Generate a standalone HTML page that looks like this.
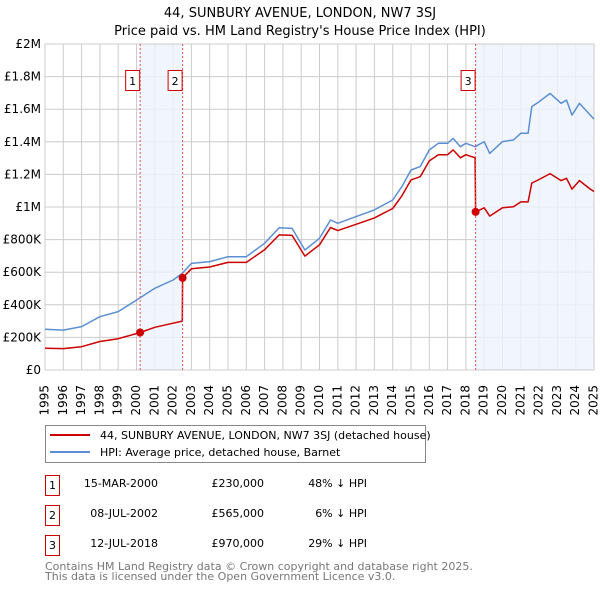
<!DOCTYPE html>
<html><head><meta charset="utf-8"><style>
body{margin:0;background:#fff;}
svg{display:block;font-family:"DejaVu Sans","Liberation Sans",sans-serif;}
</style></head><body>
<svg id="chart" width="600" height="590" viewBox="0 0 600 590">
<text x="300" y="17" text-anchor="middle" font-size="13">44, SUNBURY AVENUE, LONDON, NW7 3SJ</text>
<text x="300" y="35" text-anchor="middle" font-size="13">Price paid vs. HM Land Registry's House Price Index (HPI)</text>
<g id="grid"></g><g id="shade"></g><g id="axes"></g><g id="series"></g><g id="marks"></g>
<g>
<rect x="45.5" y="425.5" width="380" height="37" fill="#fff" stroke="#888"/>
<line x1="50" y1="435" x2="90" y2="435" stroke="#cc0000" stroke-width="2"/>
<text x="100" y="439" font-size="11">44, SUNBURY AVENUE, LONDON, NW7 3SJ (detached house)</text>
<line x1="50" y1="452" x2="90" y2="452" stroke="#5b8fd4" stroke-width="2"/>
<text x="100" y="456" font-size="11">HPI: Average price, detached house, Barnet</text>
</g>
<g font-size="11">
<rect x="45.5" y="475.5" width="14" height="20" fill="#fff" stroke="#cc0000"/><text x="52.5" y="489" text-anchor="middle">1</text>
<text x="158" y="487" text-anchor="end">15-MAR-2000</text><text x="264" y="487" text-anchor="end">£230,000</text><text x="367" y="487" text-anchor="end">48% ↓ HPI</text>
<rect x="45.5" y="505.5" width="14" height="20" fill="#fff" stroke="#cc0000"/><text x="52.5" y="519" text-anchor="middle">2</text>
<text x="158" y="517" text-anchor="end">08-JUL-2002</text><text x="264" y="517" text-anchor="end">£565,000</text><text x="367" y="517" text-anchor="end">6% ↓ HPI</text>
<rect x="45.5" y="535.5" width="14" height="20" fill="#fff" stroke="#cc0000"/><text x="52.5" y="549" text-anchor="middle">3</text>
<text x="158" y="547" text-anchor="end">12-JUL-2018</text><text x="264" y="547" text-anchor="end">£970,000</text><text x="367" y="547" text-anchor="end">29% ↓ HPI</text>
</g>
<text x="45" y="570" font-size="11" fill="#777">Contains HM Land Registry data © Crown copyright and database right 2025.</text>
<text x="45" y="580" font-size="11" fill="#777">This data is licensed under the Open Government Licence v3.0.</text>
</svg>
<script>
const yTicks=[0,200000,400000,600000,800000,1000000,1200000,1400000,1600000,1800000,2000000];
const yTickLabels=["£0","£200K","£400K","£600K","£800K","£1M","£1.2M","£1.4M","£1.6M","£1.8M","£2M"];
const xYears=[1995,1996,1997,1998,1999,2000,2001,2002,2003,2004,2005,2006,2007,2008,2009,2010,2011,2012,2013,2014,2015,2016,2017,2018,2019,2020,2021,2022,2023,2024,2025];
const hpiDates=[1995,1996,1997,1998,1999,2000,2001,2002,2002.5,2003,2004,2005,2006,2007,2007.8,2008.5,2009.2,2010,2010.6,2011,2012,2013,2014,2014.5,2015,2015.5,2016,2016.5,2017,2017.3,2017.7,2018,2018.5,2019,2019.3,2020,2020.6,2021,2021.4,2021.6,2022,2022.6,2023.2,2023.5,2023.8,2024.2,2024.8,2025];
const hpiValues=[250,245,266,327,358,429,501,552,593,654,665,695,695,777,873,869,736,808,920,900,941,982,1043,1125,1227,1248,1350,1391,1391,1421,1370,1391,1370,1401,1329,1401,1411,1452,1452,1616,1646,1697,1636,1656,1564,1636,1564,1540];
const priceDates=[1995,1996,1997,1998,1999,2000.2,2001,2002,2002.5,2002.52,2003,2004,2005,2006,2007,2007.8,2008.5,2009.2,2010,2010.6,2011,2012,2013,2014,2014.5,2015,2015.5,2016,2016.5,2017,2017.3,2017.7,2018,2018.5,2018.53,2019,2019.3,2020,2020.6,2021,2021.4,2021.6,2022,2022.6,2023.2,2023.5,2023.8,2024.2,2024.8,2025];
const priceValues=[134,131,143,175,192,230,262,287,300,565,621,632,660,660,738,829,826,699,768,874,855,894,933,991,1069,1166,1186,1283,1321,1321,1350,1302,1321,1302,970,995,944,995,1002,1031,1031,1147,1169,1205,1162,1176,1110,1162,1110,1095];
const saleDates=[2000.2,2002.52,2018.53];
const saleValues=[230000,565000,970000];
const saleLabels=["1","2","3"];

const NS="http://www.w3.org/2000/svg";
const L=45,R=594,T=44,B=370;
const X=y=>L+(y-1995)/(2025-1995)*(R-L);
const Y=v=>B-v/2000000*(B-T);
function mk(tag,attrs,parent){const e=document.createElementNS(NS,tag);for(const k in attrs)e.setAttribute(k,attrs[k]);parent.appendChild(e);return e;}
const grid=document.getElementById('grid'),axes=document.getElementById('axes'),shade=document.getElementById('shade'),series=document.getElementById('series'),marks=document.getElementById('marks');
const s1=mk('rect',{x:X(saleDates[0]),y:T,width:X(saleDates[1])-X(saleDates[0]),height:B-T,fill:'#eef3fc',opacity:0.8},shade);


const s2=mk('rect',{x:X(saleDates[2]),y:T,width:R-X(saleDates[2]),height:B-T,fill:'#eef3fc',opacity:0.8},shade);


yTicks.forEach((v,i)=>{
  const g=mk('line',{x1:L,x2:R,y1:Y(v),y2:Y(v),stroke:'#ccc'},grid);
  
  
  const t=mk('text',{x:L-4,y:Y(v)+4,'text-anchor':'end','font-size':12},axes);
  t.textContent=yTickLabels[i];
  
  
});
xYears.forEach(yr=>{
  const g=mk('line',{x1:X(yr),x2:X(yr),y1:T,y2:B,stroke:'#ccc'},grid);
  
  
  const t=mk('text',{x:X(yr),y:B+15,transform:`rotate(-90 ${X(yr)} ${B+15})`,'text-anchor':'end','dominant-baseline':'middle','font-size':12},axes);
  t.textContent=yr;
  
  
});
const frame=mk('rect',{x:L,y:T,width:R-L,height:B-T,fill:'none',stroke:'#ccc'},axes);


function line(dates,vals,color,name){
  const d=dates.map((t,i)=>(i?'L':'M')+X(t).toFixed(1)+','+Y(vals[i]*1000).toFixed(1)).join('');
  const p=mk('path',{d:d,fill:'none',stroke:color,'stroke-width':1.5,'stroke-linejoin':'round'},series);
  
  
}
line(hpiDates,hpiValues,'#5b8fd4','hpi-line');
line(priceDates,priceValues,'#cc0000','price-paid-line');
saleDates.forEach((t,i)=>{
  const v=mk('line',{x1:X(t),x2:X(t),y1:T,y2:B,stroke:'#e05050','stroke-dasharray':'2,2','stroke-width':1},marks);
  
  
  const c=mk('circle',{cx:X(t),cy:Y(saleValues[i]),r:4,fill:'#cc0000'},marks);
  
  
  const b=mk('rect',{x:X(t)-19.5+i*0+ (i===2?-4.5:-4.5) - (-9),y:70.5,width:14,height:20,fill:'#fff',stroke:'#cc0000'},marks);
  b.setAttribute('x',X(t)-14.5+ (i===0?-0:0) - 0);
  
  
  const tx=mk('text',{x:X(t)-7.5,y:85,'text-anchor':'middle','font-size':11},marks);
  tx.textContent=saleLabels[i];
  
  
});
</script>
</body></html>
